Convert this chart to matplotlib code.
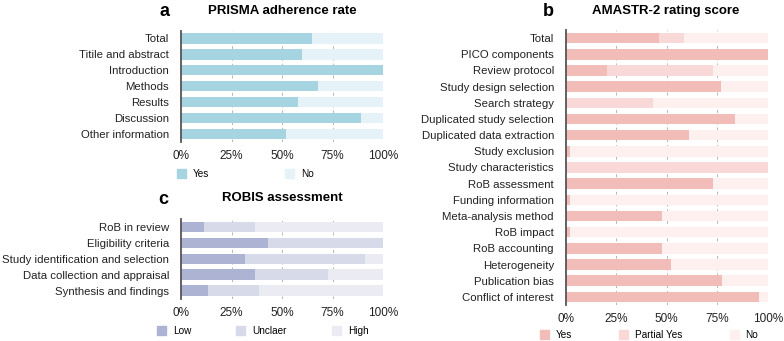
import matplotlib.pyplot as plt
from matplotlib.patches import Patch

plt.rcParams['font.family'] = ['Liberation Sans', 'DejaVu Sans']

# panel a - PRISMA adherence (% yes)
prisma_items = ["Total", "Titile and abstract", "Introduction", "Methods",
                "Results", "Discussion", "Other information"]
prisma_yes = [64.7, 59.7, 100, 68.0, 57.8, 88.9, 52.0]

# panel b - AMSTAR-2 (% yes, % partial yes)
amstar_items = ["Total", "PICO components", "Review protocol", "Study design selection",
                "Search strategy", "Duplicated study selection", "Duplicated data extraction",
                "Study exclusion", "Study characteristics", "RoB assessment",
                "Funding information", "Meta-analysis method", "RoB impact",
                "RoB accounting", "Heterogeneity", "Publication bias", "Conflict of interest"]
amstar_yes = [46.2, 100, 20.3, 76.9, 0, 83.8, 61.0, 2.3, 0, 72.7,
              2.3, 47.7, 2.3, 47.7, 52.3, 77.3, 95.5]
amstar_partial = [12.4, 0, 52.5, 0, 43.1, 0, 0, 0, 100, 0,
                  0, 0, 0, 0, 0, 0, 0]

# panel c - ROBIS (% low, % unclear)
robis_items = ["RoB in review", "Eligibility criteria", "Study identification and selection",
               "Data collection and appraisal", "Synthesis and findings"]
robis_low = [11.4, 43.2, 31.8, 36.4, 13.6]
robis_unclear = [25.0, 56.8, 59.1, 36.3, 25.0]

FS = 8.2
LFS = 7.2
W, H = 784, 341


def add_ax(x0, x1, ytop, ybot):
    return fig.add_axes([x0 / W, 1 - ybot / H, (x1 - x0) / W, (ybot - ytop) / H])


def style(ax, labels):
    n = len(labels)
    ax.set_xlim(0, 100)
    ax.set_ylim(n - 0.5, -0.5)
    ax.set_yticks(range(n))
    ax.set_yticklabels(labels, fontsize=FS, color="#222222")
    ax.set_xticks([0, 25, 50, 75, 100])
    ax.set_xticklabels(["0%", "25%", "50%", "75%", "100%"], fontsize=FS + 0.3, color="#222222")
    ax.tick_params(axis="y", length=0, pad=8.5)
    ax.tick_params(axis="x", length=0, pad=6)
    for s in ["top", "right", "bottom"]:
        ax.spines[s].set_visible(False)
    ax.spines["left"].set_color("#555555")
    ax.spines["left"].set_linewidth(1.3)
    ax.spines["left"].set_zorder(5)
    for g in [25, 50, 75, 100]:
        ax.axvline(g, color="#b5b5b5", lw=0.7, ls=(0, (3, 3)), zorder=0)


def stacked(ax, parts, colors):
    n = len(parts[0])
    left = [0] * n
    for vals, c in zip(parts, colors):
        ax.barh(range(n), vals, left=left, height=0.65, color=c, zorder=2)
        left = [l + v for l, v in zip(left, vals)]


def legend(handles_cols, labels, x, y, spacing):
    fig.legend(handles=[Patch(color=c) for c in handles_cols], labels=labels,
               loc="center left", bbox_to_anchor=(x / W, 1 - y / H), ncol=len(labels),
               frameon=False, fontsize=LFS, handlelength=0.9, handleheight=0.9,
               handletextpad=0.7, columnspacing=spacing, borderpad=0, borderaxespad=0)


fig = plt.figure(figsize=(W / 100, H / 100), dpi=100)

# a
ax_a = add_ax(181, 383, 30.5, 142)
cols_a = ["#a6d4e0", "#e5f2f7"]
stacked(ax_a, [prisma_yes, [100 - v for v in prisma_yes]], cols_a)
style(ax_a, prisma_items)
fig.text(282 / W, 1 - 11 / H, "PRISMA adherence rate", ha="center", va="center",
         fontsize=9.5, fontweight="bold")
fig.text(165 / W, 1 - 12 / H, "a", ha="center", va="center", fontsize=13, fontweight="bold")
legend(cols_a, ["Yes", "No"], 177, 174, 7.6)

# b
ax_b = add_ax(565.7, 767.7, 30, 305)
cols_b = ["#f2bcb9", "#f9d9d7", "#fdf0ef"]
amstar_no = [100 - y - p for y, p in zip(amstar_yes, amstar_partial)]
stacked(ax_b, [amstar_yes, amstar_partial, amstar_no], cols_b)
style(ax_b, amstar_items)
fig.text(666 / W, 1 - 11 / H, "AMASTR-2 rating score", ha="center", va="center",
         fontsize=9.5, fontweight="bold")
fig.text(548 / W, 1 - 12 / H, "b", ha="center", va="center", fontsize=13, fontweight="bold")
legend(cols_b, ["Yes", "Partial Yes", "No"], 540, 335, 4.7)

# c
ax_c = add_ax(181, 383, 219, 298.5)
cols_c = ["#adb3d3", "#d6dae9", "#ebecf3"]
robis_high = [100 - l - u for l, u in zip(robis_low, robis_unclear)]
stacked(ax_c, [robis_low, robis_unclear, robis_high], cols_c)
style(ax_c, robis_items)
fig.text(282 / W, 1 - 198 / H, "ROBIS assessment", ha="center", va="center",
         fontsize=9.5, fontweight="bold")
fig.text(163 / W, 1 - 200 / H, "c", ha="center", va="center", fontsize=13, fontweight="bold")
legend(cols_c, ["Low", "Unclaer", "High"], 157, 331, 4.5)

fig.savefig("out.png", dpi=100)
